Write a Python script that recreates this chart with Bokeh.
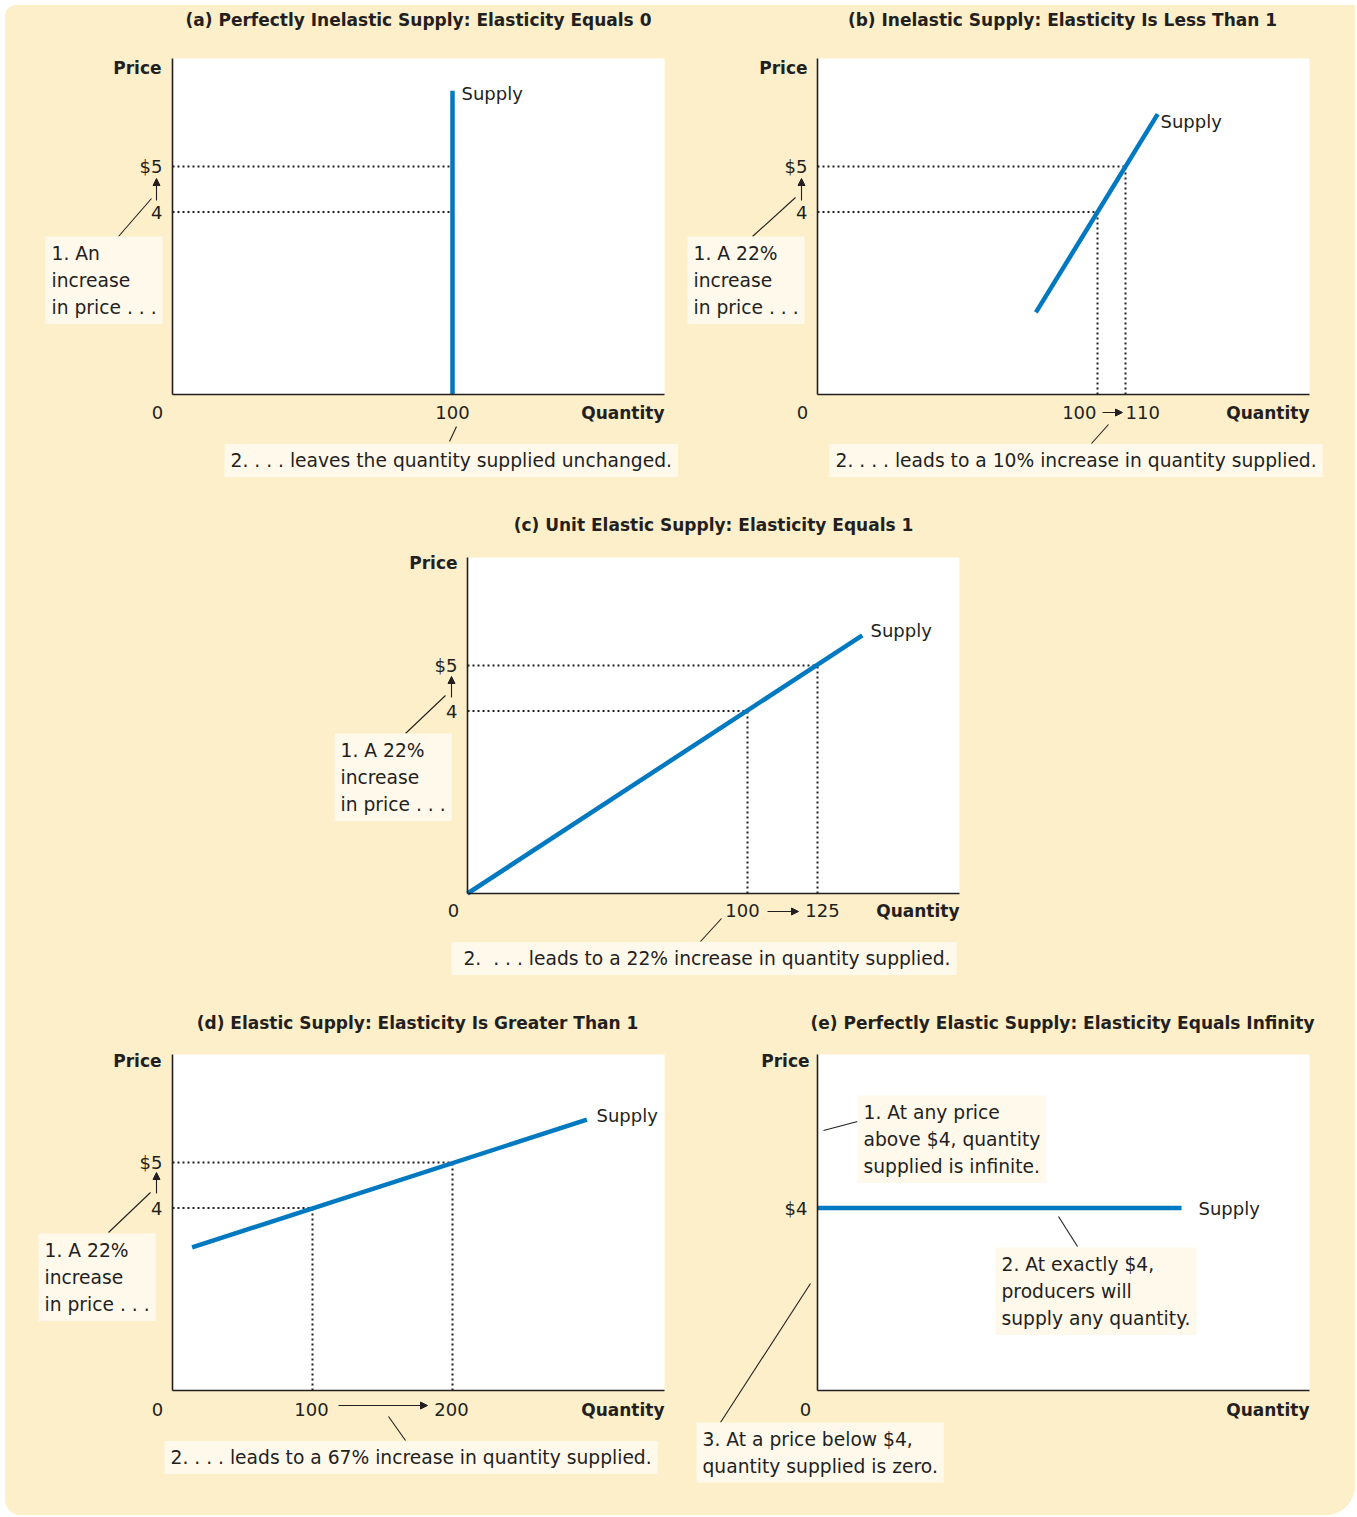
from bokeh.plotting import figure
from bokeh.models import Label, Arrow, NormalHead, FixedTicker, Range1d
from bokeh.layouts import column, row
from bokeh.embed import file_html
from bokeh.resources import INLINE

# ---------------- data ----------------
price_ticks = [4, 5]
price_tick_labels = ["4", "$5"]
price_ticks_e = [4]
price_tick_labels_e = ["$4"]

qty_a = [100, 100]      # quantity supplied at $4 and at $5
qty_b = [100, 110]
qty_c = [100, 125]
qty_d = [100, 200]

supply_a_q = [100, 100]
supply_a_p = [0.0, 6.66]
supply_b_q = [78, 121.5]
supply_b_p = [1.8, 6.15]
supply_c_q = [0, 141]
supply_c_p = [0.0, 5.66]
supply_d_q = [14, 296]
supply_d_p = [3.14, 5.94]
supply_e_q = [0, 130]
supply_e_p = [4, 4]

titles = [
    "(a) Perfectly Inelastic Supply: Elasticity Equals 0",
    "(b) Inelastic Supply: Elasticity Is Less Than 1",
    "(c) Unit Elastic Supply: Elasticity Equals 1",
    "(d) Elastic Supply: Elasticity Is Greater Than 1",
    "(e) Perfectly Elastic Supply: Elasticity Equals Infinity",
]

# ---------------- style ----------------
BEIGE = "#fcefc9"
BOX = "#fff9ec"
BLUE = "#0079c1"
INK = "#231f20"
FONT = "DejaVu Sans"
FW, FH = 492, 336          # plot-area size in px
SY = 45.6                  # px per $1
YMAX = FH / SY


class Panel:
    """One panel; the Bokeh frame covers the whole panel cell so that
    nothing is clipped, and the axes sit at the data origin."""

    def __init__(self, L, R, T, B, fl, ft, sx, yticks, ylabels):
        self.fl = fl
        self.fb = ft + FH
        self.sx = sx
        self.xmax = FW / sx
        p = figure(frame_width=R - L, frame_height=B - T,
                   x_range=Range1d(self.X(L), self.X(R)),
                   y_range=Range1d(self.Y(B), self.Y(T)),
                   min_border=0, output_backend="svg", toolbar_location=None,
                   background_fill_color=BEIGE, border_fill_color=BEIGE,
                   outline_line_color=None)
        p.title.visible = False
        p.grid.visible = False
        # white plot area
        p.quad(left=[0], right=[self.xmax], bottom=[0], top=[YMAX],
               fill_color="white", line_color=None)
        for ax in (p.xaxis[0], p.yaxis[0]):
            ax.fixed_location = 0
            ax.axis_line_color = INK
            ax.axis_line_width = 1.6
            ax.major_tick_line_color = None
            ax.minor_tick_line_color = None
            ax.major_tick_out = 0
            ax.major_tick_in = 0
            ax.minor_tick_out = 0
            ax.minor_tick_in = 0
        p.xaxis.bounds = (0, self.xmax)
        p.yaxis.bounds = (0, YMAX)
        p.xaxis.ticker = FixedTicker(ticks=[])
        p.yaxis.ticker = FixedTicker(ticks=yticks)
        p.yaxis.major_label_overrides = {t: s for t, s in zip(yticks, ylabels)}
        p.yaxis.major_label_standoff = 10
        p.yaxis.major_label_text_font = FONT
        p.yaxis.major_label_text_font_size = "18px"
        p.yaxis.major_label_text_color = INK
        self.p = p

    def X(self, px):
        return (px - self.fl) / self.sx

    def Y(self, py):
        return (self.fb - py) / SY

    def _label(self, x, y, s, align, baseline, bold, size, pad=None, lh=1.26):
        kw = {}
        if pad is not None:
            kw = dict(background_fill_color=BOX, background_fill_alpha=1.0, padding=pad)
        self.p.add_layout(Label(x=x, y=y, text=s, text_align=align, text_baseline=baseline,
                                text_font=FONT, text_font_size=size,
                                text_font_style="bold" if bold else "normal",
                                text_color=INK, text_line_height=lh, **kw))

    def text(self, px, py, s, align="left", baseline="middle", bold=False, size="18px"):
        self._label(self.X(px), self.Y(py), s, align, baseline, bold, size)

    def box(self, px, py, s, baseline="top", pad=6):
        # px, py: outer left / top (or middle) of the callout box
        self._label(self.X(px), self.Y(py), s, "left", baseline, False, "18.7px", pad, lh=1.3)

    def qlabel(self, q, dpx, py, s, align="center"):
        self._label(q + dpx / self.sx, self.Y(py), s, align, "middle", False, "18px")

    def line(self, x0, y0, x1, y1, head=False):
        end = NormalHead(size=7, fill_color=INK, line_color=INK, line_width=1) if head else None
        self.p.add_layout(Arrow(x_start=self.X(x0), y_start=self.Y(y0),
                                x_end=self.X(x1), y_end=self.Y(y1),
                                end=end, line_color=INK, line_width=1.1))

    def guides(self, qtys, vertical=True):
        n = len(qtys)
        self.p.segment(x0=[0] * n, y0=price_ticks, x1=qtys, y1=price_ticks,
                       line_color=INK, line_width=2, line_dash="2 3")
        if vertical:
            self.p.segment(x0=qtys, y0=[0] * n, x1=qtys, y1=price_ticks,
                           line_color=INK, line_width=2, line_dash="2 3")

    def supply(self, q, pr):
        self.p.line(q, pr, line_color=BLUE, line_width=4.5)


# ---------------- panel (a) ----------------
pa = Panel(5, 680, 5, 500, 172, 58, 2.8, price_ticks, price_tick_labels)
pa.text(418, 19, titles[0], align="center", bold=True, size="17px")
pa.text(161, 67, "Price", align="right", bold=True, size="17px")
pa.guides(qty_a, vertical=False)
pa.supply(supply_a_q, supply_a_p)
pa.text(461, 93, "Supply")
pa.text(157, 412, "0", align="center")
pa.qlabel(qty_a[0], 0, 412, "100")
pa.text(664, 412, "Quantity", align="right", bold=True, size="17px")
pa.line(156, 200, 156, 178, head=True)
pa.line(118, 236, 151, 198)
pa.box(45, 236, "1. An\nincrease\nin price . . .")
pa.line(456, 426, 449, 441)
pa.box(224, 460, "2. . . . leaves the quantity supplied unchanged.", baseline="middle")

# ---------------- panel (b) ----------------
pb = Panel(680, 1355, 5, 500, 817, 58, 2.8, price_ticks, price_tick_labels)
pb.text(1062, 19, titles[1], align="center", bold=True, size="17px")
pb.text(807, 67, "Price", align="right", bold=True, size="17px")
pb.guides(qty_b)
pb.supply(supply_b_q, supply_b_p)
pb.text(1160, 121, "Supply")
pb.text(802, 412, "0", align="center")
pb.qlabel(qty_b[0], -1, 412, "100", align="right")
pb.qlabel(qty_b[1], 0, 412, "110", align="left")
pb.line(1102, 412, 1122, 412, head=True)
pb.text(1309, 412, "Quantity", align="right", bold=True, size="17px")
pb.line(801, 200, 801, 178, head=True)
pb.line(752, 236, 795, 197)
pb.box(687, 236, "1. A 22%\nincrease\nin price . . .")
pb.line(1108, 424, 1091, 443)
pb.box(829, 460, "2. . . . leads to a 10% increase in quantity supplied.", baseline="middle")

# ---------------- panel (c) ----------------
pc = Panel(5, 1355, 500, 995, 467, 557, 2.8, price_ticks, price_tick_labels)
pc.text(713, 524, titles[2], align="center", bold=True, size="17px")
pc.text(457, 562, "Price", align="right", bold=True, size="17px")
pc.guides(qty_c)
pc.supply(supply_c_q, supply_c_p)
pc.text(870, 630, "Supply")
pc.text(453, 910, "0", align="center")
pc.qlabel(qty_c[0], -5, 910, "100")
pc.qlabel(qty_c[1], 5, 910, "125")
pc.line(767, 911, 798, 911, head=True)
pc.text(959, 910, "Quantity", align="right", bold=True, size="17px")
pc.line(451, 697, 451, 676, head=True)
pc.line(405, 733, 445, 695)
pc.box(334, 733, "1. A 22%\nincrease\nin price . . .")
pc.line(721, 918, 700, 941)
pc.box(451, 958, "\u00a02.\u00a0 . . . leads to a 22% increase in quantity supplied.", baseline="middle")

# ---------------- panel (d) ----------------
pd_ = Panel(5, 680, 995, 1515, 172, 1054, 1.4, price_ticks, price_tick_labels)
pd_.text(417, 1022, titles[3], align="center", bold=True, size="17px")
pd_.text(161, 1060, "Price", align="right", bold=True, size="17px")
pd_.guides(qty_d)
pd_.supply(supply_d_q, supply_d_p)
pd_.text(596, 1115, "Supply")
pd_.text(157, 1409, "0", align="center")
pd_.qlabel(qty_d[0], -1, 1409, "100")
pd_.qlabel(qty_d[1], -1, 1409, "200")
pd_.line(338, 1405, 427, 1405, head=True)
pd_.text(664, 1409, "Quantity", align="right", bold=True, size="17px")
pd_.line(156, 1193, 156, 1172, head=True)
pd_.line(108, 1232, 150, 1192)
pd_.box(38, 1233, "1. A 22%\nincrease\nin price . . .")
pd_.line(388, 1416, 405, 1440)
pd_.box(164, 1457, "2. . . . leads to a 67% increase in quantity supplied.", baseline="middle")

# ---------------- panel (e) ----------------
pe = Panel(680, 1355, 995, 1515, 817, 1054, 2.8, price_ticks_e, price_tick_labels_e)
pe.text(1062, 1022, titles[4], align="center", bold=True, size="17px")
pe.text(809, 1060, "Price", align="right", bold=True, size="17px")
pe.supply(supply_e_q, supply_e_p)
pe.text(1198, 1208, "Supply")
pe.text(805, 1409, "0", align="center")
pe.text(1309, 1409, "Quantity", align="right", bold=True, size="17px")
pe.line(823, 1130, 857, 1121)
pe.box(857, 1095, "1. At any price\nabove $4, quantity\nsupplied is infinite.")
pe.line(1058, 1216, 1077, 1246)
pe.box(995, 1247, "2. At exactly $4,\nproducers will\nsupply any quantity.")
pe.line(810, 1283, 720, 1422)
pe.box(696, 1422, "3. At a price below $4,\nquantity supplied is zero.")

bg = {"background-color": BEIGE}
layout = column(row(pa.p, pb.p, styles=bg), pc.p, row(pd_.p, pe.p, styles=bg),
                styles={"background-color": BEIGE, "margin-left": "5px", "margin-top": "5px",
                        "border-radius": "12px 0 30px 16px", "overflow": "hidden"})

open("out.html", "w").write(file_html(layout, INLINE))
